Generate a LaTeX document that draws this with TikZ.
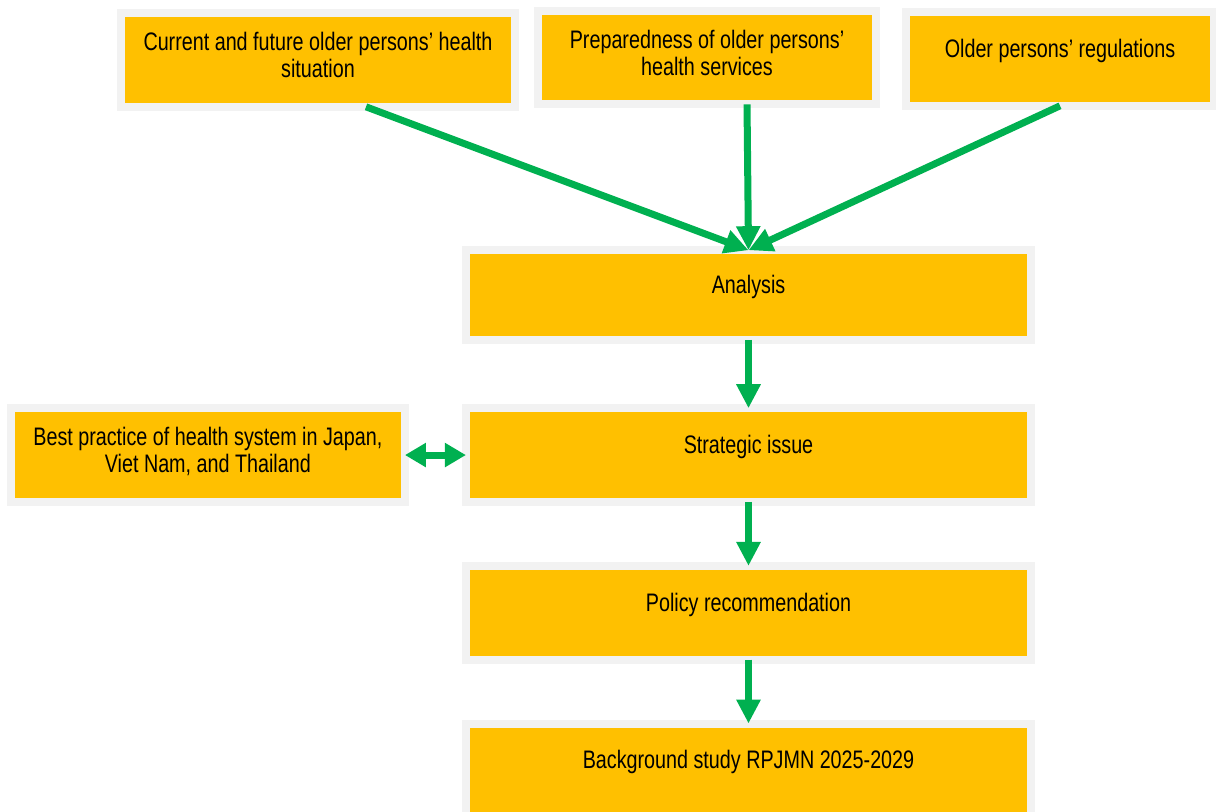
\documentclass[tikz,border=0pt]{standalone}
\usepackage{fontspec}
\setmainfont{Liberation Sans}[FakeStretch=0.78]
\usepackage{tikz}
\usetikzlibrary{arrows.meta}
\usetikzlibrary{positioning}
\definecolor{boxfill}{HTML}{FFC000}
\definecolor{boxrim}{HTML}{F2F2F2}
\definecolor{arrowgreen}{HTML}{00B050}
\tikzstyle{block} = [rectangle, fill=boxfill, draw=boxrim, line width=0.2cm, outer sep=0pt, minimum height=2.34cm, align=center, font=\fontsize{18pt}{19.2pt}\selectfont]
\tikzstyle{arrow} = [draw=arrowgreen, line width=0.175cm, -{Triangle[width=0.575cm,length=0.6cm]}]
\tikzstyle{twoway} = [draw=arrowgreen, line width=0.175cm, {Triangle[width=0.575cm,length=0.525cm]}-{Triangle[width=0.575cm,length=0.525cm]}]

\begin{document}
\begin{tikzpicture}[x=0.025cm, y=-0.025cm]
				\useasboundingbox (0,0) rectangle (1216,811);

				% Inputs
				\node[block, minimum width=9.86cm, text depth=7pt] (cur) at (318,60) {Current and future older persons’ health\\situation};
				\node[block, minimum width=8.46cm, text depth=7pt] (prep) at (707,57.5) {Preparedness of older persons’\\health services};
				\node[block, minimum width=7.69cm, text depth=15pt] (reg) at (1060,59) {Older persons’ regulations};

				% Main flow
				\node[block, minimum width=14.125cm, minimum height=2.24cm, text depth=15pt] (ana) at (748.5,295) {Analysis};
				\node[block, minimum width=14.125cm, text depth=15pt, below = 1.71 cm of ana] (strat) {Strategic issue};
				\node[block, minimum width=14.125cm, text depth=15pt, below = 1.6 cm of strat] (pol) {Policy recommendation};
				\node[block, minimum width=14.125cm, text depth=15pt, below = 1.6 cm of pol] (bg) {Background study RPJMN 2025-2029};

				% Best practice
				\node[block, minimum width=9.85cm, text depth=7pt, left = 1.525 cm of strat] (best) {Best practice of health system in Japan,\\Viet Nam, and Thailand};

				% Arrows
				\draw[arrow] ([xshift=1.2cm]cur.south) -- (ana.north);
				\draw[arrow] (reg.south) -- (ana.north);
				\draw[arrow] ([xshift=1cm]prep.south) -- (ana.north);
				\draw[arrow] (ana) -- (strat);
				\draw[arrow] (strat) -- (pol);
				\draw[arrow] (pol) -- (bg);
				\draw[twoway] (best) -- (strat);

\end{tikzpicture}
\end{document}
